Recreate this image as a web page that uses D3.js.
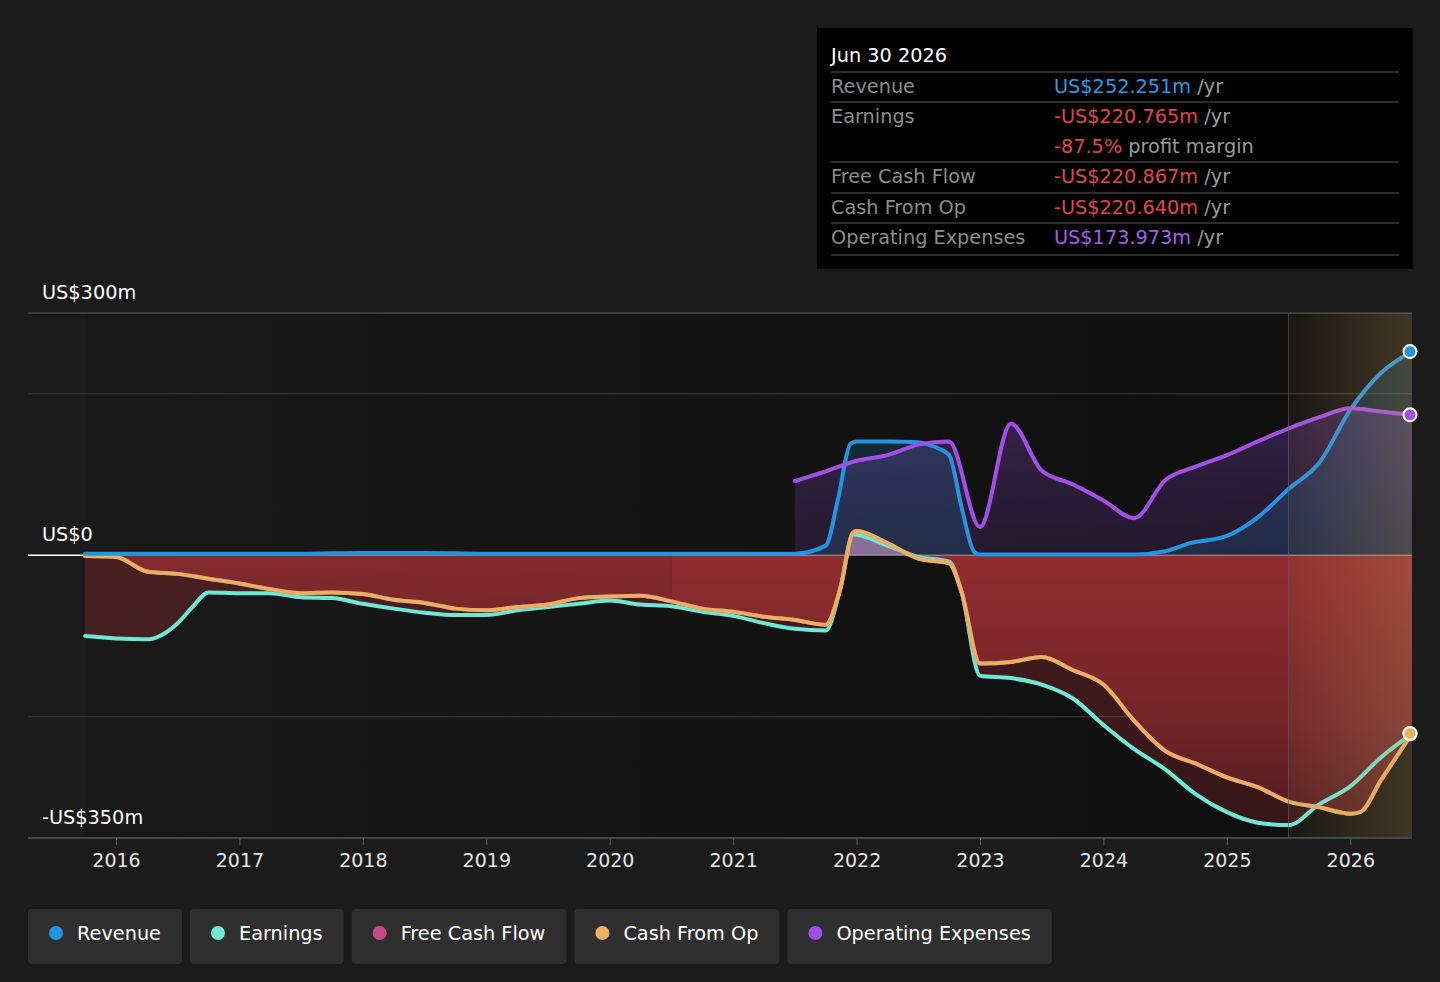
<!DOCTYPE html>
<html>
<head>
<meta charset="utf-8">
<script src="https://cdn.jsdelivr.net/npm/d3@7"></script>
<style>
    body { margin: 0; background: #1b1b1b; font-family: "DejaVu Sans", sans-serif; }
    #chart-area svg { display: block; }
</style>
</head>
<body>
<div id="chart-area"></div>
<script>

// Revenue (US$m, annualised) by date
const revenueDates = [2015.75, 2016, 2016.5, 2017, 2017.5, 2018, 2018.5, 2019, 2019.5, 2020, 2020.5, 2021, 2021.5, 2021.75, 2021.85, 2021.95, 2022, 2022.25, 2022.5, 2022.62, 2022.75, 2022.85, 2022.95, 2023, 2023.5, 2024, 2024.25, 2024.5, 2024.7, 2025, 2025.25, 2025.5, 2025.75, 2026, 2026.25, 2026.5];
const revenueValues = [2, 2, 2, 2, 2, 3, 3, 2, 2, 2, 2, 2, 2, 12, 70, 138, 141, 141, 140, 135, 124, 60, 5, 1, 1, 1, 1, 5, 15, 24, 47, 82, 115, 180, 226, 252.3];

// Earnings
const earningsDates = [2015.75, 2016, 2016.25, 2016.5, 2016.62, 2016.75, 2017, 2017.25, 2017.5, 2017.75, 2018, 2018.25, 2018.5, 2018.75, 2019, 2019.25, 2019.5, 2019.75, 2020, 2020.25, 2020.5, 2020.75, 2021, 2021.25, 2021.5, 2021.75, 2021.87, 2021.97, 2022.25, 2022.5, 2022.75, 2022.85, 2023, 2023.25, 2023.5, 2023.75, 2024, 2024.25, 2024.5, 2024.75, 2025, 2025.25, 2025.5, 2025.75, 2026, 2026.25, 2026.5];
const earningsValues = [-100, -103, -104, -84, -64, -46, -47, -47, -52, -53, -60, -66, -71, -74, -74, -68, -64, -60, -56, -61, -63, -70, -75, -84, -91, -93, -40, 26, 12, -2, -8, -45, -149, -152, -160, -177, -210, -240, -265, -296, -318, -331, -334, -308, -286, -250, -220.8];

// Free cash flow (sits under cash from op)
const fcfDates = [2015.75, 2016, 2016.25, 2016.5, 2016.75, 2017, 2017.25, 2017.5, 2017.75, 2018, 2018.25, 2018.5, 2018.75, 2019, 2019.25, 2019.5, 2019.75, 2020, 2020.25, 2020.5, 2020.75, 2021, 2021.25, 2021.5, 2021.75, 2021.87, 2021.97, 2022, 2022.25, 2022.5, 2022.75, 2022.85, 2023, 2023.25, 2023.5, 2023.75, 2024, 2024.25, 2024.5, 2024.75, 2025, 2025.25, 2025.5, 2025.75, 2026, 2026.08, 2026.25, 2026.5];
const fcfValues = [-1, -2, -20, -23, -29, -35, -42, -47, -46, -48, -55, -59, -66, -68, -64, -61, -53, -51, -50, -57, -66, -70, -76, -80, -86, -40, 28, 30, 15, -4, -10, -45, -134, -132, -126, -142, -160, -205, -242, -258, -275, -287, -305, -312, -320, -318, -278, -220.9];

// Cash from operations
const cfoDates = [2015.75, 2016, 2016.25, 2016.5, 2016.75, 2017, 2017.25, 2017.5, 2017.75, 2018, 2018.25, 2018.5, 2018.75, 2019, 2019.25, 2019.5, 2019.75, 2020, 2020.25, 2020.5, 2020.75, 2021, 2021.25, 2021.5, 2021.75, 2021.87, 2021.97, 2022, 2022.25, 2022.5, 2022.75, 2022.85, 2023, 2023.25, 2023.5, 2023.75, 2024, 2024.25, 2024.5, 2024.75, 2025, 2025.25, 2025.5, 2025.75, 2026, 2026.08, 2026.25, 2026.5];
const cfoValues = [-1, -2, -20, -23, -29, -35, -42, -47, -46, -48, -55, -59, -66, -68, -64, -61, -53, -51, -50, -57, -66, -70, -76, -80, -86, -40, 28, 30, 15, -4, -10, -45, -134, -132, -126, -142, -160, -205, -242, -258, -275, -287, -305, -312, -320, -318, -278, -220.6];

// Operating expenses
const opexDates = [2021.5, 2021.75, 2022, 2022.25, 2022.5, 2022.75, 2023, 2023.25, 2023.5, 2023.75, 2024, 2024.25, 2024.5, 2024.75, 2025, 2025.25, 2025.5, 2025.75, 2026, 2026.25, 2026.5];
const opexValues = [92, 104, 117, 124, 137, 141, 35, 163, 105, 88, 68, 46, 93, 110, 124, 141, 157, 171, 182, 178, 174];

const yearTicks = [2016, 2017, 2018, 2019, 2020, 2021, 2022, 2023, 2024, 2025, 2026];
const yLabelValues = [300, 0, -350];
const yLabelTexts = ["US$300m", "US$0", "-US$350m"];
const gridValues = [300, 200, -200];
const forecastStart = 2025.5;
const lastDate = 2026.5;
const dataStart = 2015.75;
const fcfSplitDate = 2020.5;

const tooltipTitle = "Jun 30 2026";
const tooltipRows = [
    { label: "Revenue", value: "US$252.251m", unit: " /yr", color: "#2b9be5" },
    { label: "Earnings", value: "-US$220.765m", unit: " /yr", color: "#e0474c" },
    { label: "", value: "-87.5%", unit: " profit margin", color: "#e0474c" },
    { label: "Free Cash Flow", value: "-US$220.867m", unit: " /yr", color: "#e0474c" },
    { label: "Cash From Op", value: "-US$220.640m", unit: " /yr", color: "#e0474c" },
    { label: "Operating Expenses", value: "US$173.973m", unit: " /yr", color: "#a55df0" }
];

const legendNames = ["Revenue", "Earnings", "Free Cash Flow", "Cash From Op", "Operating Expenses"];
const legendColors = ["#2394df", "#6ee7d4", "#c44b8b", "#e8b060", "#a24fe8"];

const FONT = 19.3;


class CashVis {

    constructor(_parentElement) {
        this.parentElement = _parentElement;
        this.initVis();
    }

    /*
     * Static content: svg, scales, grid, axis
     */
    initVis() {
        let vis = this;

        vis.width = 1440;
        vis.height = 982;

        vis.svg = d3.select("#" + vis.parentElement).append("svg")
            .attr("width", vis.width)
            .attr("height", vis.height)
            .style("font-family", "'DejaVu Sans', sans-serif");

        vis.x = d3.scaleLinear()
            .domain([2015.287, lastDate])
            .range([28, 1412]);

        vis.y = d3.scaleLinear()
            .domain([-350, 300])
            .range([838, 313]);

        let defs = vis.svg.append("defs");

        // background darkening toward the present
        let bg = defs.append("linearGradient")
            .attr("id", "bg-grad")
            .attr("gradientUnits", "userSpaceOnUse")
            .attr("x1", vis.x(dataStart)).attr("x2", vis.x(forecastStart))
            .attr("y1", 0).attr("y2", 0);
        bg.append("stop").attr("offset", 0).attr("stop-color", "#191919");
        bg.append("stop").attr("offset", 1).attr("stop-color", "#0f0f0f");

        // FCF area: above zero pinkish, below red
        let fcfGrad = defs.append("linearGradient")
            .attr("id", "fcf-grad")
            .attr("gradientUnits", "userSpaceOnUse")
            .attr("x1", 0).attr("x2", 0)
            .attr("y1", vis.y(300)).attr("y2", vis.y(-350));
        let z = (vis.y(0) - vis.y(300)) / (vis.y(-350) - vis.y(300));
        fcfGrad.append("stop").attr("offset", 0).attr("stop-color", "#c4708f");
        fcfGrad.append("stop").attr("offset", z).attr("stop-color", "#a0707f");
        fcfGrad.append("stop").attr("offset", z).attr("stop-color", "#952d30");
        fcfGrad.append("stop").attr("offset", z + (1 - z) * 0.6).attr("stop-color", "#74252a");
        fcfGrad.append("stop").attr("offset", 1).attr("stop-color", "#4c1b1e");

        let earnGrad = defs.append("linearGradient")
            .attr("id", "earn-grad")
            .attr("gradientUnits", "userSpaceOnUse")
            .attr("x1", 0).attr("x2", 0)
            .attr("y1", vis.y(300)).attr("y2", vis.y(-350));
        earnGrad.append("stop").attr("offset", 0).attr("stop-color", "rgba(110,231,212,0.25)");
        earnGrad.append("stop").attr("offset", z).attr("stop-color", "rgba(110,231,212,0.15)");
        earnGrad.append("stop").attr("offset", z).attr("stop-color", "rgba(190,50,55,0.29)");
        earnGrad.append("stop").attr("offset", 1).attr("stop-color", "rgba(190,50,55,0.22)");

        let opexGrad = defs.append("linearGradient")
            .attr("id", "opex-grad")
            .attr("gradientUnits", "userSpaceOnUse")
            .attr("x1", 0).attr("x2", 0)
            .attr("y1", vis.y(200)).attr("y2", vis.y(0));
        opexGrad.append("stop").attr("offset", 0).attr("stop-color", "rgba(162,79,232,0.27)");
        opexGrad.append("stop").attr("offset", 1).attr("stop-color", "rgba(162,79,232,0.12)");

        let revGrad = defs.append("linearGradient")
            .attr("id", "rev-grad")
            .attr("gradientUnits", "userSpaceOnUse")
            .attr("x1", 0).attr("x2", 0)
            .attr("y1", vis.y(260)).attr("y2", vis.y(0));
        revGrad.append("stop").attr("offset", 0).attr("stop-color", "rgba(35,148,223,0.18)");
        revGrad.append("stop").attr("offset", 1).attr("stop-color", "rgba(35,148,223,0.16)");

        let fc = defs.append("linearGradient")
            .attr("id", "fc-grad")
            .attr("gradientUnits", "userSpaceOnUse")
            .attr("x1", vis.x(forecastStart)).attr("x2", vis.x(lastDate))
            .attr("y1", 0).attr("y2", 0);
        fc.append("stop").attr("offset", 0).attr("stop-color", "rgba(200,160,95,0.06)");
        fc.append("stop").attr("offset", 1).attr("stop-color", "rgba(200,160,95,0.27)");

        defs.append("clipPath").attr("id", "clip-early")
            .append("rect")
            .attr("x", vis.x(dataStart)).attr("y", 0)
            .attr("width", vis.x(fcfSplitDate) - vis.x(dataStart)).attr("height", vis.height);
        defs.append("clipPath").attr("id", "clip-late")
            .append("rect")
            .attr("x", vis.x(fcfSplitDate)).attr("y", 0)
            .attr("width", vis.x(lastDate) - vis.x(fcfSplitDate)).attr("height", vis.height);

        // plot background
        vis.svg.append("rect")
            .attr("x", vis.x(dataStart))
            .attr("y", vis.y(300))
            .attr("width", vis.x(forecastStart) - vis.x(dataStart))
            .attr("height", vis.y(-350) - vis.y(300))
            .attr("fill", "url(#bg-grad)");
        vis.svg.append("rect")
            .attr("x", vis.x(forecastStart))
            .attr("y", vis.y(300))
            .attr("width", vis.x(lastDate) - vis.x(forecastStart))
            .attr("height", vis.y(-350) - vis.y(300))
            .attr("fill", "#0f0f0f");

        // grid
        vis.svg.selectAll(".grid")
            .data(gridValues)
            .enter().append("line")
            .attr("class", "grid")
            .attr("x1", 28).attr("x2", 1412)
            .attr("y1", d => vis.y(d)).attr("y2", d => vis.y(d))
            .attr("stroke", d => d === 300 ? "#474747" : "#303030")
            .attr("stroke-width", 1.5);

        vis.svg.append("line")
            .attr("x1", 28).attr("x2", vis.x(dataStart))
            .attr("y1", vis.y(0)).attr("y2", vis.y(0))
            .attr("stroke", "#ffffff")
            .attr("stroke-width", 1.5);

        vis.svg.selectAll(".y-label")
            .data(yLabelValues)
            .enter().append("text")
            .attr("class", "y-label")
            .attr("x", 42)
            .attr("y", d => vis.y(d) - 14)
            .attr("fill", "#ffffff")
            .attr("font-size", FONT)
            .text((d, i) => yLabelTexts[i]);

        vis.wrangleData();
    }

    /*
     * Pair up dates and values
     */
    wrangleData() {
        let vis = this;
        let pair = (dates, values) => dates.map((d, i) => ({ date: d, value: values[i] }));

        vis.revenue = pair(revenueDates, revenueValues);
        vis.earnings = pair(earningsDates, earningsValues);
        vis.fcf = pair(fcfDates, fcfValues);
        vis.cfo = pair(cfoDates, cfoValues);
        vis.opex = pair(opexDates, opexValues);

        vis.updateVis();
    }

    /*
     * The drawing function
     */
    updateVis() {
        let vis = this;

        let area = d3.area()
            .curve(d3.curveMonotoneX)
            .x(d => vis.x(d.date))
            .y0(vis.y(0))
            .y1(d => vis.y(d.value));

        let line = d3.line()
            .curve(d3.curveMonotoneX)
            .x(d => vis.x(d.date))
            .y(d => vis.y(d.value));

        // areas
        vis.svg.append("path").datum(vis.earnings)
            .attr("d", area).attr("fill", "url(#earn-grad)");

        vis.svg.append("path").datum(vis.fcf)
            .attr("d", area).attr("fill", "url(#fcf-grad)")
            .attr("opacity", 0.78)
            .attr("clip-path", "url(#clip-early)");
        vis.svg.append("path").datum(vis.fcf)
            .attr("d", area).attr("fill", "url(#fcf-grad)")
            .attr("opacity", 0.95)
            .attr("clip-path", "url(#clip-late)");

        vis.svg.append("path").datum(vis.opex)
            .attr("d", area).attr("fill", "url(#opex-grad)");
        vis.svg.append("path").datum(vis.revenue)
            .attr("d", area).attr("fill", "url(#rev-grad)");

        // zero line over the areas
        vis.svg.append("line")
            .attr("x1", vis.x(dataStart)).attr("x2", vis.x(lastDate))
            .attr("y1", vis.y(0)).attr("y2", vis.y(0))
            .attr("stroke", "#ffffff")
            .attr("stroke-opacity", 0.35)
            .attr("stroke-width", 1.5);

        // lines
        let series = [
            { data: vis.earnings, color: legendColors[1] },
            { data: vis.fcf, color: legendColors[2] },
            { data: vis.cfo, color: legendColors[3] },
            { data: vis.revenue, color: legendColors[0] },
            { data: vis.opex, color: legendColors[4] }
        ];

        vis.svg.selectAll(".series-line")
            .data(series)
            .enter().append("path")
            .attr("class", "series-line")
            .attr("d", d => line(d.data))
            .attr("fill", "none")
            .attr("stroke", d => d.color)
            .attr("stroke-width", 4)
            .attr("stroke-linejoin", "round")
            .attr("stroke-linecap", "round");

        // forecast overlay
        vis.svg.append("rect")
            .attr("x", vis.x(forecastStart))
            .attr("y", vis.y(300))
            .attr("width", vis.x(lastDate) - vis.x(forecastStart))
            .attr("height", vis.y(-350) - vis.y(300))
            .attr("fill", "url(#fc-grad)");
        vis.svg.append("line")
            .attr("x1", vis.x(forecastStart)).attr("x2", vis.x(forecastStart))
            .attr("y1", vis.y(300)).attr("y2", vis.y(-350))
            .attr("stroke", "#5a5a5a")
            .attr("stroke-opacity", 0.7)
            .attr("stroke-width", 1);

        // end dots
        let ends = [
            { d: vis.earnings[vis.earnings.length - 1], color: legendColors[1] },
            { d: vis.cfo[vis.cfo.length - 1], color: legendColors[3] },
            { d: vis.opex[vis.opex.length - 1], color: legendColors[4] },
            { d: vis.revenue[vis.revenue.length - 1], color: legendColors[0] }
        ];
        vis.svg.selectAll(".end-dot")
            .data(ends)
            .enter().append("circle")
            .attr("class", "end-dot")
            .attr("cx", d => vis.x(d.d.date) - 2)
            .attr("cy", d => vis.y(d.d.value))
            .attr("r", 6.5)
            .attr("fill", d => d.color)
            .attr("stroke", "#ffffff")
            .attr("stroke-width", 2);

        // x axis
        vis.svg.append("line")
            .attr("x1", 28).attr("x2", 1412)
            .attr("y1", vis.y(-350)).attr("y2", vis.y(-350))
            .attr("stroke", "#474747")
            .attr("stroke-width", 2);

        let xAxis = d3.axisBottom(vis.x)
            .tickValues(yearTicks)
            .tickFormat(d3.format("d"))
            .tickSize(7)
            .tickSizeOuter(0);

        let axisG = vis.svg.append("g")
            .attr("transform", "translate(0," + vis.y(-350) + ")")
            .call(xAxis);
        axisG.select(".domain").remove();
        axisG.selectAll("line").attr("stroke", "#5a5a5a");
        axisG.selectAll("text")
            .attr("fill", "#e6e6e6")
            .attr("font-size", 19)
            .attr("font-family", "'DejaVu Sans', sans-serif")
            .attr("dy", "1.0em");

        vis.drawTooltip();
        vis.drawLegend();
    }

    drawTooltip() {
        let vis = this;
        let g = vis.svg.append("g").attr("transform", "translate(817,28)");

        g.append("rect")
            .attr("width", 596).attr("height", 241)
            .attr("fill", "#000000");

        g.append("text")
            .attr("x", 14).attr("y", 34)
            .attr("fill", "#ffffff")
            .attr("font-size", FONT)
            .text(tooltipTitle);

        let rowY = [58, 88, 118, 148, 179, 209];
        let lineY = [44, 74, 134, 165, 195, 227];

        g.selectAll(".tt-line")
            .data(lineY)
            .enter().append("line")
            .attr("x1", 14).attr("x2", 582)
            .attr("y1", d => d).attr("y2", d => d)
            .attr("stroke", "#3d3d3d")
            .attr("stroke-width", 1.5);

        let rows = g.selectAll(".tt-row")
            .data(tooltipRows)
            .enter().append("g")
            .attr("transform", (d, i) => "translate(0," + (rowY[i] + 7) + ")");

        rows.append("text")
            .attr("x", 14)
            .attr("fill", "#8c8c8c")
            .attr("font-size", FONT)
            .text(d => d.label);

        let val = rows.append("text")
            .attr("x", 237)
            .attr("font-size", FONT);
        val.append("tspan").attr("fill", d => d.color).text(d => d.value);
        val.append("tspan").attr("fill", "#9a9a9a").text(d => d.unit);
    }

    drawLegend() {
        let vis = this;
        let g = vis.svg.append("g").attr("transform", "translate(28,909)");
        let xPos = 0;

        legendNames.forEach((name, i) => {
            let item = g.append("g").attr("transform", "translate(" + xPos + ",0)");
            let rect = item.append("rect")
                .attr("height", 55)
                .attr("rx", 4)
                .attr("fill", "#2f2f2f");
            item.append("circle")
                .attr("cx", 28).attr("cy", 24)
                .attr("r", 7)
                .attr("fill", legendColors[i]);
            let t = item.append("text")
                .attr("x", 49).attr("y", 31)
                .attr("fill", "#ffffff")
                .attr("font-size", FONT)
                .text(name);
            let w = t.node().getComputedTextLength() + 49 + 21;
            rect.attr("width", w);
            xPos += w + 8;
        });
    }
}

new CashVis("chart-area");
</script>
</body>
</html>
